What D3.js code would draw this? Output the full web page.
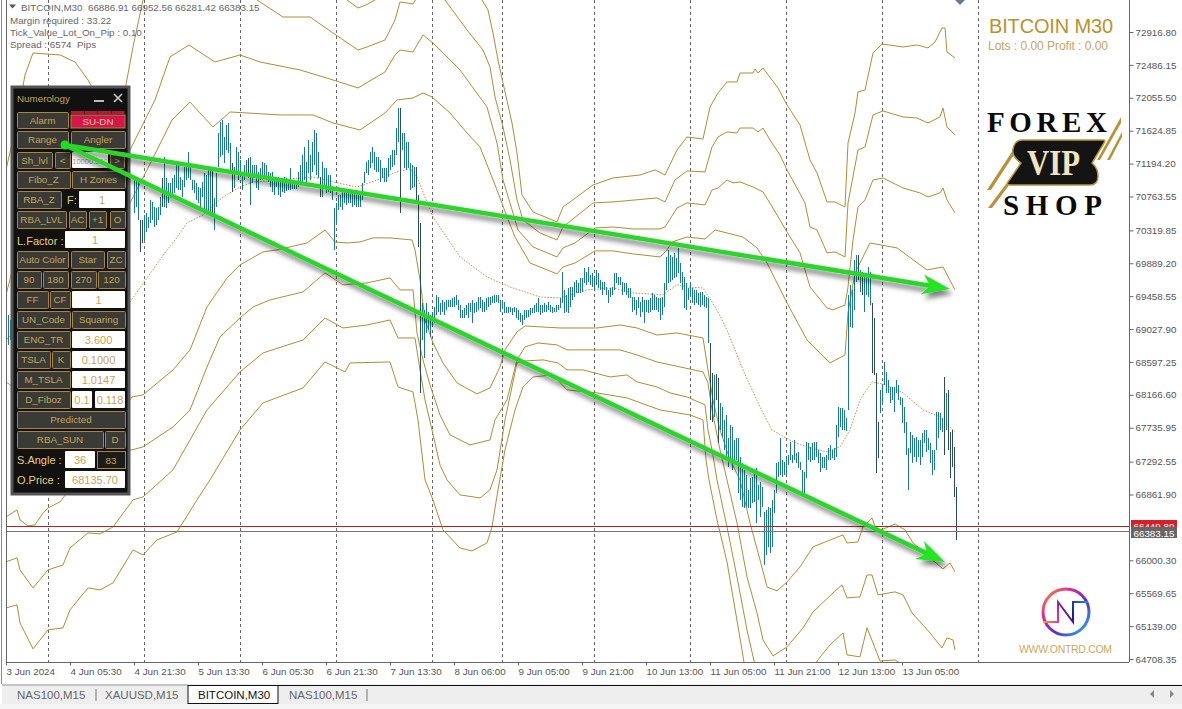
<!DOCTYPE html>
<html><head><meta charset="utf-8">
<script src="https://cdn.jsdelivr.net/npm/d3@7/dist/d3.min.js"></script>
<style>html,body{margin:0;padding:0;background:#fff;overflow:hidden}svg{display:block}text{font-family:"Liberation Sans",Arial,sans-serif}</style>
</head><body><div id="c"></div>
<script>
const priceTicks=[72916.80,72486.15,72055.50,71624.85,71194.20,70763.55,70319.85,69889.20,69458.55,69027.90,68597.25,68166.60,67735.95,67292.55,66861.90,66000.30,65569.65,65139.00,64708.35];
const timeTickBars=[0,32,64,96,128,160,192,224,256,288,320,352,384,416,448];
const timeLabels=["3 Jun 2024","4 Jun 05:30","4 Jun 21:30","5 Jun 13:30","6 Jun 05:30","6 Jun 21:30","7 Jun 13:30","8 Jun 06:00","9 Jun 05:00","9 Jun 21:00","10 Jun 13:00","11 Jun 05:00","11 Jun 21:00","12 Jun 13:00","13 Jun 05:00"];
const separatorBars=[21,69,117,165,213,248,294,342,390,438,486];
const bidPrice=66383.15, askPrice=66449.80;
const barStart=64;
const barHigh=[71019,70980,70980,70456,70456,70522,70548,70496,70718,70692,70626,70613,70626,70757,71006,71281,71006,70941,70941,71006,71045,71176,71176,71019,70980,71150,71176,71346,71202,70980,70980,70941,70888,70875,70954,71072,71045,71111,71150,71111,70744,71072,71595,71739,71765,71542,71700,71726,71464,71202,71150,71412,71346,71242,71072,71176,71242,71268,71281,71176,71176,71176,71085,71137,71216,71202,71176,71085,71072,71085,71019,71019,71019,70980,
71006,71019,71006,70980,71137,70980,70954,70954,71085,71176,71307,71412,71216,71503,71307,71477,71634,71595,71346,71019,71216,71137,71137,71045,71045,70888,70613,70679,70783,70783,70823,70849,70849,70823,70849,70849,70849,70849,70823,70823,70941,71085,71216,71242,71346,71412,71346,71281,71281,71242,71137,71137,71137,71268,71307,71372,71372,71660,71922,71922,71595,71595,71477,71477,71202,71176,71150,71150,70783,70417,
69370,69278,69370,69252,69212,69252,69317,69474,69448,69370,69409,69383,69409,69409,69409,69435,69448,69474,69409,69344,69278,69304,69344,69370,69370,69409,69370,69383,69448,69448,69409,69383,69435,69448,69448,69461,69474,69474,69474,69409,69383,69383,69317,69317,69317,69304,69317,69304,69278,69239,69212,69278,69278,69278,69304,69304,69344,69370,69435,69344,69344,69370,69344,69383,69344,69317,69304,69344,69344,69435,69775,69540,69474,69566,69579,69579,69645,69671,69632,69697,69697,69828,69775,69841,69736,69762,69710,69802,69762,69671,69645,69645,69579,69540,69566,69579,69762,69762,69710,69710,69645,69632,69632,69566,69566,69448,69448,69409,69448,69383,69448,69409,69409,69409,69435,69501,69474,69448,69435,69435,69448,69632,69972,70064,69998,69972,70025,69959,70090,69893,69775,69710,69632,69566,69645,69566,69540,69540,69501,69514,69514,69474,69448,
69435,68846,68453,68427,68440,68388,68061,68008,67838,67903,67602,67772,67746,67576,67602,67602,67354,67276,67184,67118,66922,67079,67092,67158,67210,66988,67027,66961,66634,66660,66699,66686,66791,66922,67276,67289,67602,67315,67289,67354,67380,67550,67380,67576,67407,67420,67289,67184,67158,67550,67537,67485,67537,67550,67550,67446,67407,67354,67354,67380,67472,67511,67446,67472,67772,68008,67995,67995,67969,67864,69474,69606,69540,69933,69998,69998,69802,69775,69762,69710,69841,69775,69370,69173,68453,67812,68231,68296,68598,68467,68362,68270,68270,68270,68362,68296,68139,68126,68008,67812,67472,67681,67641,67602,67615,67576,67576,67668,67707,67707,67602,67537,67446,67446,67943,67943,67930,67864,68401,68192,68231,67681,67707,67485,66961];
const barLow=[70548,70626,70456,70038,70155,70194,70299,70352,70417,70456,70364,70391,70456,70522,70626,70626,70613,70679,70744,70757,70810,70875,70849,70849,70757,70888,70980,71006,70980,70849,70810,70718,70679,70626,70757,70587,70587,70561,70548,70496,70325,70626,71150,71281,71307,71202,71372,71333,71072,70823,70875,71085,70980,71019,70849,70980,71045,71006,70653,70941,71006,70875,70849,70980,70980,71019,71019,70954,70888,70823,70783,70888,70783,70757,
70823,70810,70836,70849,70849,70862,70862,70862,70888,70954,70954,70980,70941,71072,70980,71085,71176,71045,71006,70757,70757,70915,70810,70823,70810,70718,70064,70417,70587,70626,70587,70679,70653,70679,70679,70626,70653,70626,70626,70626,70718,70941,71072,71045,71137,71202,71111,71085,71085,70954,71006,70954,70954,71019,71111,71150,71176,71307,71477,70548,71372,71137,71111,71137,70849,70875,70888,70718,70103,68192,
68885,68650,68977,69016,68924,69055,69107,69212,69252,69212,69252,69212,69278,69317,69317,69317,69317,69344,69278,69173,69173,69173,69212,69173,69252,69107,69239,69252,69278,69304,69252,69252,69278,69317,69344,69370,69370,69383,69370,69252,69304,69239,69239,69239,69252,69212,69252,69173,69147,69121,69081,69147,69173,69186,69212,69239,69239,69252,69252,69212,69239,69252,69252,69278,69252,69239,69252,69252,69278,69304,69370,69239,69252,69239,69317,69409,69448,69501,69501,69501,69514,69632,69606,69645,69606,69579,69540,69606,69566,69540,69474,69540,69474,69370,69448,69474,69540,69632,69606,69606,69474,69514,69474,69435,69435,69252,69278,69212,69304,69186,69252,69107,69252,69239,69252,69278,69278,69278,69252,69147,69212,69317,69540,69632,69645,69671,69697,69710,69762,69632,69540,69304,69278,69409,69448,69370,69344,69370,69344,69317,69344,69317,69304,
68846,67838,67812,67877,68100,67537,67707,67615,67446,67354,67223,67315,67184,67276,67315,66883,66791,66699,66686,66699,66686,66686,66752,66765,66490,66791,66569,66699,65941,66071,66175,66097,66175,66621,66883,67092,67118,67092,67118,67118,67249,67315,67276,67315,67276,67210,67184,66883,66883,67079,67315,67289,67315,67315,67354,67276,67158,67210,67210,67184,67315,67315,67341,67315,67354,67615,67746,67707,67707,67694,67969,69055,69042,69278,69645,69671,69514,69474,69252,69474,69448,69344,68453,68427,67145,67341,67930,68061,68297,68192,68192,68061,68100,67943,68192,68100,68035,67799,67668,67380,66922,67407,67276,67354,67289,67354,67249,67354,67537,67420,67446,67276,67118,67184,67446,67602,67707,67681,67380,67707,67446,67079,67223,66830,66267];
const earlyBars=[[1,69212,68820],[2,69147,68885]];
const darkBars=[67,68,78,103,113,121,157,197,205,206,207,352,353,355,356,426,428,433,434,435,436,469,471,472,473,474,475];
const bandZ=[[165,73500],[170.5,73336],[176,73231],[180,73270],[184.5,73336],[200,73600],[225,73600],[238,73336],[241,73205],[243.5,72904],[246,72551],[248.5,72250],[253,71726],[255.5,71333],[258,70783],[263.5,70561],[275.5,70430],[278.5,70626],[282,70692],[293.5,70914],[303.5,71006],[317,71045],[324.5,71111],[329.5,71045],[335.5,71372],[340.5,71542],[348.5,71516],[352,71935],[356,72119],[360.5,72263],[365.5,72263],[367,72380],[373.5,72380],[374.5,72433],[376,72380],[378.5,72446],[386,72184],[390.5,71961],[397,71700],[402,71242],[405.5,71072],[410.5,70692],[414.5,70692],[419.5,70626],[421,71464],[424.5,71857],[426,72132],[429.5,72158],[433.5,72642],[438,72760],[448.5,72721],[455.5,72747],[461,72708],[464.5,72786],[468,72969],[469.5,72969],[470.5,72655],[474.5,72577]];
const bandA=[[0,71111],[4.5,71634],[9.5,72354],[13.5,72642],[27,72616],[34.5,72524],[41,72289],[52,71765],[59.5,72158],[63.5,72721],[68.5,73336],[72,73598],[122,73598],[125.5,73336],[138.5,73113],[152,73113],[163.5,72904],[176,72681],[180.5,72721],[189.5,72812],[194.5,73074],[197,73310],[203.5,73284],[208.5,73493],[213.5,73440],[219.5,73336],[230.5,72943],[238.5,72681],[242,72459],[244.5,72066],[248.5,71673],[252,71242],[255.5,70718],[258.5,70456],[267,70286],[275.5,70194],[278.5,70364],[293.5,70679],[303.5,70692],[325.5,70744],[329.5,70692],[334.5,70980],[340.5,71098],[349.5,71085],[353,71412],[356,71542],[360.5,71608],[365.5,71595],[367,71660],[373.5,71660],[376,71608],[378.5,71660],[382,71503],[387,71307],[390.5,71111],[396,70849],[399.5,70679],[402,70364],[405.5,70325],[410.5,70025],[414.5,70038],[419.5,69972],[421,70679],[426,71372],[429.5,71412],[433.5,71831],[438.5,71883],[448.5,71805],[455.5,71791],[461,71726],[467,71805],[468.5,71922],[470.5,71673],[474.5,71569]];
const bandB=[[0,69474],[7,70194],[27,70718],[47,70849],[62,71372],[74.5,72027],[82,72590],[91.5,72747],[104.5,72524],[117,72616],[127,72524],[147,72420],[163.5,72289],[176,72184],[189.5,72394],[194.5,72616],[197,72681],[203.5,72655],[208.5,72878],[213.5,72773],[227,72420],[240.5,71935],[245.5,71464],[248.5,70980],[252,70679],[256,70325],[263.5,70103],[275.5,69972],[278.5,70090],[284.5,70155],[294.5,70351],[303.5,70364],[313.5,70338],[327,70338],[329.5,70364],[335.5,70613],[340.5,70679],[349.5,70653],[353,70849],[356,70875],[360.5,70980],[363.5,70941],[367,70954],[373.5,70888],[378.5,70823],[381,70718],[387,70456],[390.5,70299],[397,70025],[402,69579],[410.5,69304],[413.5,69278],[419.5,69344],[421,69579],[423.5,70194],[426,70626],[429.5,70718],[433.5,70980],[438.5,71006],[448.5,70875],[457,70810],[461,70757],[467,70810],[468.5,70875],[470.5,70718],[474.5,70548]];
const bandC=[[0,68885],[27,69540],[47,69802],[62,70679],[70.5,71111],[83,71765],[92,71999],[103.5,71673],[112,71870],[137,71831],[153.5,71831],[163.5,71726],[177,71634],[189.5,71857],[195.5,72027],[203.5,72053],[208.5,72119],[213,72066],[222,71857],[230.5,71595],[237,71412],[245.5,70849],[250.5,70496],[254.5,70233],[262,69893],[275.5,69750],[278.5,69841],[284.5,69893],[294.5,70051],[303.5,70051],[313.5,70012],[327,69972],[330.5,70064],[333,70168],[340.5,70233],[349.5,70207],[354.5,70325],[368.5,70233],[375.5,70090],[380.5,69893],[390.5,69370],[400.5,68885],[412,68584],[419.5,68689],[421,69239],[424.5,69762],[432,70155],[445.5,70090],[460.5,69802],[468.5,69841],[474.5,69540]];
const bandLA=[[0,68336],[27,67838],[47,67576],[63,68139],[68.5,68166],[83.5,68493],[92,68755],[100.5,69317],[110.5,69697],[117,69867],[128.5,70038],[135.5,70064],[142,70103],[150.5,70155],[159.5,70325],[164.5,70168],[170.5,70155],[177,70168],[183.5,70221],[192,70221],[203,70194],[204.5,70064],[205.5,69907],[207,69671],[209.5,69147],[213.5,68846],[218.5,68584],[225.5,68323],[235.5,68179],[242,68257],[247,68532],[249.5,68755],[255.5,68991],[259.5,69068],[277,69042],[295.5,69042],[307,69081],[315.5,69042],[325.5,68950],[335.5,68977],[348.5,68911],[351,68493],[353.5,68100],[357,67707],[362,67315],[367,67053],[372,66490],[377,66006],[380.5,65652],[385.5,65600],[390.5,65718],[397,65914],[403.5,66176],[413.5,66281],[418.5,66333],[420.5,66228],[426,66241],[428.5,66437],[433,66555],[435.5,66372],[444.5,66477],[449.5,66398],[453.5,66228],[462,66032],[468.5,65888],[472,65966],[474.5,65848]];
const bandLB=[[0,66568],[5.5,66660],[7,66529],[11,66451],[14.5,66464],[18.5,66621],[21,66686],[27,66765],[30.5,66883],[47,67446],[63,67446],[68.5,67485],[83.5,67746],[92,67969],[100.5,68532],[107,68925],[117,69173],[123.5,69317],[132,69409],[148.5,69514],[159.5,69763],[168.5,69606],[180.5,69632],[192,69697],[197,69540],[203.5,69540],[205.5,68977],[208.5,68624],[212,68296],[217,67903],[222,67642],[232,67511],[242,67576],[244.5,67838],[250.5,68100],[255.5,68624],[259.5,68794],[266,68846],[275.5,68820],[280.5,68755],[292,68755],[307,68755],[315.5,68689],[325.5,68597],[348.5,68467],[351,68323],[353,67969],[357,67446],[360.5,67053],[365.5,66490],[370.5,65783],[375.5,65312],[378.5,64958],[383.5,64749],[390.5,64867],[398.5,65115],[403.5,65325],[413.5,65573],[418,65678],[420.5,65508],[427,65521],[430.5,65809],[433,65809],[436,65548],[444.5,65587],[448.5,65548],[453,65312],[462,65050],[468,64854],[470.5,64985],[473.5,64958],[474.5,64827]];
const bandLC=[[0,65980],[5.5,66032],[7,65875],[13.5,65639],[21,65875],[28.5,65940],[32,66163],[41,66359],[47,66346],[53.5,66437],[63.5,66791],[68.5,66830],[83.5,67184],[92,67576],[100.5,67969],[117,68467],[128.5,68715],[148.5,68885],[159.5,69173],[168.5,69042],[180.5,69081],[192,69147],[196,68911],[204.5,68911],[207,68493],[209.5,68100],[213,67707],[217,67249],[220.5,67053],[227,66857],[237,66817],[242,66922],[245.5,67184],[249.5,67838],[255.5,68584],[259.5,68610],[268.5,68624],[276,68584],[280.5,68493],[288.5,68493],[302,68401],[310.5,68427],[315.5,68336],[325.5,68270],[332,68192],[340.5,68139],[349.5,68035],[351,67707],[353,67446],[355.5,67053],[360.5,66437],[365.5,65783],[370.5,65089],[374,64683],[384.5,63911],[397,63911],[405.5,64683],[412,64893],[418.5,65050],[420.5,64762],[427,64736],[430.5,65116],[433.5,64919],[437,64683],[444.5,64696],[448.5,64631],[454.5,64173]];
const bandLD=[[0,65377],[5.5,65417],[7,65181],[13.5,64841],[21,65089],[28.5,65116],[32,65351],[41,65639],[47,65613],[53.5,65705],[63.5,66136],[68.5,66071],[75.5,66267],[85.5,66372],[95.5,66791],[102,67053],[117,67707],[128.5,68061],[148.5,68257],[159.5,68597],[169.5,68467],[172,68584],[192,68597],[196,68270],[203.5,68205],[206,67838],[209.5,67053],[213.5,66791],[218.5,66398],[227,66162],[233,66123],[240.5,66228],[243,66437],[246,66922],[249.5,67446],[254.5,67969],[258.5,68270],[263.5,68401],[273.5,68427],[280.5,68231],[295.5,68192],[310.5,68126],[327,67969],[342,67903],[348.5,67838],[350,67315],[351.5,67053],[355.5,66529],[360.5,65980],[368,64827],[372,64173]];
const bandMid=[[62,69383],[80.5,70064],[83.5,70155],[90.5,70417],[98.5,70522],[108.5,70757],[117,70888],[123.5,70954],[137,70980],[147,71006],[153.5,71019],[163.5,70954],[175.5,70888],[185.5,70980],[195.5,71085],[202,71124],[205.5,71019],[213.5,70496],[227,69972],[240.5,69710],[252,69579],[267,69448],[277,69435],[290.5,69540],[303.5,69566],[313.5,69501],[328.5,69474],[335.5,69606],[340.5,69579],[348.5,69566],[355.5,69278],[360.5,69016],[368.5,68493],[377,68008],[383,67707],[393.5,67550],[402,67472],[410.5,67420],[417,67485],[422,67707],[427,68100],[433,68336],[440.5,68297],[448.5,68192],[458.5,67969],[467,67877],[474.5,67681]];
const trendFrom=[29.5,71438];
const trendTo=[[472,69553],[469.5,65979]];

const W=1182,H=709,L=6,R=1129,B=662;
const x=d3.scaleLinear().domain([0,475]).range([6,956]);
const y=d3.scaleLinear().domain([64708.35,72916.80]).range([659,32]);
const GOLD="#ad8e36",TEAL="#1c7c85",DARK="#2b4f4a",TXT="#555";
const svg=d3.select("#c").append("svg").attr("width",W).attr("height",H).attr("viewBox",`0 0 ${W} ${H}`);
const defs=svg.append("defs");
defs.append("clipPath").attr("id","plot").append("rect").attr("x",L).attr("y",0).attr("width",R-L).attr("height",B);
const sh=defs.append("filter").attr("id","sh").attr("x","-10%").attr("y","-20%").attr("width","120%").attr("height","150%").attr("filterUnits","objectBoundingBox");
sh.append("feDropShadow").attr("dx",3).attr("dy",5).attr("stdDeviation",2.5).attr("flood-color","#000").attr("flood-opacity",.5);
const gr=defs.append("linearGradient").attr("id","ring").attr("x1","0").attr("y1","0").attr("x2","1").attr("y2","1");
[[0,"#ff9a1f"],[.3,"#e0279a"],[.6,"#5a2bd0"],[1,"#19c3e8"]].forEach(s=>gr.append("stop").attr("offset",s[0]).attr("stop-color",s[1]));
const gn=defs.append("linearGradient").attr("id","nn").attr("gradientUnits","userSpaceOnUse").attr("x1",1043).attr("y1",622).attr("x2",1088).attr("y2",602);
[[0,"#ff9a1f"],[.35,"#e0279a"],[.6,"#1a1a9a"],[1,"#1a9ad0"]].forEach(s=>gn.append("stop").attr("offset",s[0]).attr("stop-color",s[1]));

svg.append("rect").attr("width",W).attr("height",H).attr("fill","#fff");
const plot=svg.append("g").attr("clip-path","url(#plot)");
plot.selectAll(".sep").data(separatorBars).join("line").attr("x1",d=>Math.round(x(d))+.5).attr("x2",d=>Math.round(x(d))+.5).attr("y1",0).attr("y2",B).attr("stroke","#666").attr("stroke-dasharray","3,3");
const bandLine=d3.line().x(d=>x(d[0])).y(d=>y(d[1]));
[bandZ,bandA,bandB,bandC,bandLA,bandLB,bandLC,bandLD].forEach(b=>plot.append("path").attr("d",bandLine(b)).attr("fill","none").attr("stroke",GOLD).attr("stroke-width",1));
plot.append("path").attr("d",bandLine(bandMid)).attr("fill","none").attr("stroke","#b4954a").attr("stroke-width",1).attr("stroke-dasharray","1.5,1.5");
const dk=new Set(darkBars);
const bars=earlyBars.map(b=>({i:b[0],h:b[1],l:b[2]})).concat(barHigh.map((h,k)=>({i:barStart+k,h,l:barLow[k]})));
plot.selectAll(".bar").data(bars).join("line").attr("x1",d=>x(d.i)).attr("x2",d=>x(d.i)).attr("y1",d=>y(d.h)).attr("y2",d=>y(d.l)).attr("stroke",d=>dk.has(d.i)?DARK:TEAL).attr("stroke-width",1).attr("shape-rendering","crispEdges");
plot.append("line").attr("x1",L).attr("x2",R).attr("y1",Math.round(y(askPrice))+.5).attr("y2",Math.round(y(askPrice))+.5).attr("stroke","#b22222");
plot.append("line").attr("x1",L).attr("x2",R).attr("y1",Math.round(y(bidPrice))+.5).attr("y2",Math.round(y(bidPrice))+.5).attr("stroke","#777");

// frame and axes
svg.append("line").attr("x1",1.5).attr("x2",1.5).attr("y1",0).attr("y2",684).attr("stroke","#888");
svg.append("line").attr("x1",L+.5).attr("x2",L+.5).attr("y1",0).attr("y2",B).attr("stroke","#666");
const ay=svg.append("g").attr("transform",`translate(${R+.5},0)`).call(d3.axisRight(y).tickValues(priceTicks).tickFormat(d3.format(".2f")).tickSize(4).tickPadding(2));
ay.select(".domain").attr("d",`M0,0V${B}`).attr("stroke","#666");
ay.selectAll("line").attr("stroke","#666");
ay.selectAll("text").attr("fill",TXT).style("font-size","9.8px").attr("font-family","Liberation Sans");
const ax=svg.append("g").attr("transform",`translate(0,${B+.5})`).call(d3.axisBottom(x).tickValues(timeTickBars).tickFormat((d,k)=>timeLabels[k]).tickSize(3).tickPadding(3));
ax.select(".domain").attr("d",`M${L},0H${R}`).attr("stroke","#666");
ax.selectAll("line").attr("stroke","#666");
ax.selectAll("text").attr("text-anchor","start").attr("fill",TXT).style("font-size","9.8px").attr("font-family","Liberation Sans");

// price tags
const tag=(py,fill,h,v)=>{svg.append("rect").attr("x",1131).attr("y",py).attr("width",46).attr("height",h).attr("fill",fill);
 svg.append("text").attr("x",1133.5).attr("y",py+9.5).attr("fill","#fff").style("font-size","9.8px").text(v);};
tag(520,"#d5202a",12,askPrice.toFixed(2));
tag(527,"#666",11,bidPrice.toFixed(2));

// header text
svg.append("path").attr("d","M9,4.5h7l-3.5,4z").attr("fill","#555");
const hdr=[["BITCOIN,M30  66886.91 66952.56 66281.42 66383.15",21,11],["Margin required : 33.22",10,24],["Tick_Value_Lot_On_Pip : 0.10",10,36],["Spread : 6574  Pips",10,48]];
hdr.forEach(h=>svg.append("text").attr("x",h[1]).attr("y",h[2]).attr("fill","#666").style("font-size","9.8px").attr("xml:space","preserve").style("white-space","pre").text(h[0]));
svg.append("path").attr("d","M955,0L960,5L965,0z").attr("fill","#6c7a8c");

// right side titles
svg.append("text").attr("x",989).attr("y",33).attr("fill","#b8922e").style("font-size","20px").attr("textLength",124).text("BITCOIN M30");
svg.append("text").attr("x",988).attr("y",50).attr("fill","#c4a561").style("font-size","12px").attr("textLength",120).text("Lots : 0.00 Profit : 0.00");

// Forex VIP shop logo
const serif="Liberation Serif";
svg.append("text").attr("x",987).attr("y",132).style("font-family",serif).attr("font-weight","700").style("font-size","29px").attr("textLength",120).attr("fill","#0a0a0a").text("FOREX");
svg.append("text").attr("x",1003).attr("y",215).style("font-family",serif).attr("font-weight","700").style("font-size","29px").attr("textLength",99).attr("fill","#0a0a0a").text("SHOP");
[[[987,190],[1013,150],[1017,150],[991,190]],[[988,208],[1018,168],[1022,168],[992,208]],[[1097,160],[1121,117],[1121,123],[1100,160]],[[1107,160],[1122,132],[1122,137],[1110,160]]].forEach(p=>svg.append("polygon").attr("points",p.join(" ")).attr("fill","#b8923a"));
svg.append("path").attr("d","M1022,140H1103Q1106,140 1104,143L1092,163Q1098,168 1098,176Q1098,185 1090,185H1010Q1006,185 1008,182L1021,163Q1011,156 1013,149Q1015,140 1022,140Z").attr("fill","#141414").attr("stroke","#b8923a").attr("stroke-width",1.5);
svg.append("text").attr("x",1027).attr("y",175).style("font-family",serif).attr("font-weight","700").style("font-size","36px").attr("textLength",53).attr("lengthAdjust","spacingAndGlyphs").attr("fill","#f3e4bf").text("VIP");

// ONTRD logo
svg.append("circle").attr("cx",1066).attr("cy",612).attr("r",23).attr("fill","none").attr("stroke","url(#ring)").attr("stroke-width",3);
svg.append("path").attr("d","M1043,622H1058V602L1073,622V602H1088").attr("fill","none").attr("stroke","url(#nn)").attr("stroke-width",2);
svg.append("text").attr("x",1019).attr("y",653).attr("fill","#c8aa5e").style("font-size","10.5px").attr("textLength",93).text("WWW.ONTRD.COM");

// tab strip
svg.append("rect").attr("x",2).attr("y",684).attr("width",W).attr("height",20).attr("fill","#eeeeee");
svg.append("rect").attr("x",0).attr("y",704).attr("width",W).attr("height",5).attr("fill","#f5f5f5");
svg.append("line").attr("x1",2).attr("x2",188).attr("y1",685).attr("y2",685).attr("stroke","#999");
svg.append("line").attr("x1",278).attr("x2",W).attr("y1",685.5).attr("y2",685.5).attr("stroke","#111");
svg.append("rect").attr("x",188).attr("y",685.5).attr("width",90).attr("height",18).attr("fill","#fff").attr("stroke","#111");
[[96],[367]].forEach(s=>svg.append("line").attr("x1",s[0]).attr("x2",s[0]).attr("y1",689).attr("y2",701).attr("stroke","#777"));
[["NAS100,M15",17,"#666"],["XAUUSD,M15",105,"#666"],["BITCOIN,M30",198,"#111"],["NAS100,M15",289,"#666"]].forEach(t=>svg.append("text").attr("x",t[1]).attr("y",699).attr("fill",t[2]).style("font-size","11.5px").text(t[0]));
svg.append("path").attr("d","M1154,690l-4,4l4,4z M1170,690l4,4l-4,4z").attr("fill","#888");

// Numerology panel
const panel=svg.append("g");
panel.append("rect").attr("x",12).attr("y",87).attr("width",117).attr("height",407).attr("fill","#111").attr("stroke","#555").attr("stroke-width",3);
const ptx="#c7a653";
const btn=(a,b,c,d,t)=>{panel.append("rect").attr("x",a+.5).attr("y",c+.5).attr("width",b-a).attr("height",d-c).attr("rx",1).attr("fill","#3a3a36").attr("stroke","#a8873a");
 panel.append("text").attr("x",(a+b)/2).attr("y",(c+d)/2+3.5).attr("text-anchor","middle").attr("fill",ptx).style("font-size","9.8px").text(t);};
const inp=(a,b,c,d,t,fs)=>{panel.append("rect").attr("x",a).attr("y",c).attr("width",b-a).attr("height",d-c).attr("rx",1).attr("fill","#fff");
 panel.append("text").attr("x",(a+b)/2).attr("y",(c+d)/2+4).attr("text-anchor","middle").attr("fill",fs?"#999":"#c2a35a").style("font-size",fs||"11px").text(t);};
const lab=(a,c,t)=>panel.append("text").attr("x",a).attr("y",c).attr("fill","#e6cf7a").style("font-size","11px").text(t);
panel.append("text").attr("x",17).attr("y",102).attr("fill",ptx).style("font-size","9.8px").text("Numerology");
panel.append("rect").attr("x",94).attr("y",100).attr("width",10).attr("height",2).attr("fill","#bbb");
panel.append("path").attr("d","M114,94L122,102M122,94L114,102").attr("stroke","#ccc").attr("stroke-width",1.6);
btn(17,68,112,128,"Alarm");
[71,84.5,98,111.5].forEach(a=>panel.append("rect").attr("x",a).attr("y",111).attr("width",13).attr("height",3).attr("fill","#b01835"));
panel.append("rect").attr("x",71).attr("y",115).attr("width",54).attr("height",13).attr("fill","#d8154a").attr("stroke","#a8873a");
panel.append("text").attr("x",98).attr("y",125).attr("text-anchor","middle").attr("fill","#e8d0a0").style("font-size","9.8px").text("SU-DN");
btn(17,68,131,148,"Range");btn(71,125,131,148,"Angler");
btn(17,52,152,168,"Sh_lvl");btn(55,70,152,168,"<");inp(72,108,152,168,"10000.000","7.5px");btn(110,124,152,168,">");
btn(17,70,171,188,"Fibo_Z");btn(72,125,171,188,"H Zones");
btn(17,61,191,208,"RBA_Z");lab(67,204,"F:");inp(79,125,191,208,"1");
btn(17,66,211,228,"RBA_LVL");btn(69,86,211,228,"AC");btn(89,106,211,228,"+1");btn(110,125,211,228,"O");
lab(17,245,"L.Factor :");inp(65,125,231,248,"1");
btn(17,68,251,268,"Auto Color");btn(71,104,251,268,"Star");btn(107,125,251,268,"ZC");
btn(17,41,271,288,"90");btn(43,68,271,288,"180");btn(71,96,271,288,"270");btn(98,125,271,288,"120");
btn(17,48,291,308,"FF");btn(50,70,291,308,"CF");inp(72,125,291,308,"1");
btn(17,70,311,328,"UN_Code");btn(72,125,311,328,"Squaring");
btn(17,70,331,348,"ENG_TR");inp(72,125,331,348,"3.600");
btn(17,50,351,368,"TSLA");btn(52,70,351,368,"K");inp(72,125,351,368,"0.1000");
btn(17,70,371,388,"M_TSLA");inp(72,125,371,388,"1.0147");
btn(17,70,391,408,"D_Fiboz");inp(72,92,391,408,"0.1");inp(95,125,391,408,"0.118");
btn(17,125,411,428,"Predicted");
btn(17,103,431,448,"RBA_SUN");btn(105,125,431,448,"D");
lab(17,464,"S.Angle :");inp(65,95,451,468,"36");
panel.append("rect").attr("x",97.5).attr("y",451.5).attr("width",28).attr("height",17).attr("fill","#1c1c1a").attr("stroke","#a8873a");
panel.append("text").attr("x",111).attr("y",464).attr("text-anchor","middle").attr("fill",ptx).style("font-size","9.8px").text("83");
lab(17,484,"O.Price :");inp(65,125,471,488,"68135.70");

// trend arrows
const arrows=svg.append("g").attr("filter","url(#sh)");
const x0=x(trendFrom[0]),y0=y(trendFrom[1]);
trendTo.forEach(t=>{const x1=x(t[0]),y1=y(t[1]),a=Math.atan2(y1-y0,x1-x0),c=Math.cos(a),s=Math.sin(a);
 const bx=x1-28*c,by=y1-28*s;
 arrows.append("line").attr("x1",x0).attr("y1",y0).attr("x2",bx+8*c).attr("y2",by+8*s).attr("stroke","#2bd62b").attr("stroke-width",4.5);
 arrows.append("polygon").attr("points",[[x1,y1],[bx-10*s,by+10*c],[bx+8*c,by+8*s],[bx+10*s,by-10*c]].join(" ")).attr("fill","#22e622");});
arrows.append("circle").attr("cx",x0).attr("cy",y0).attr("r",4.5).attr("fill","#22dd22");
</script></body></html>
